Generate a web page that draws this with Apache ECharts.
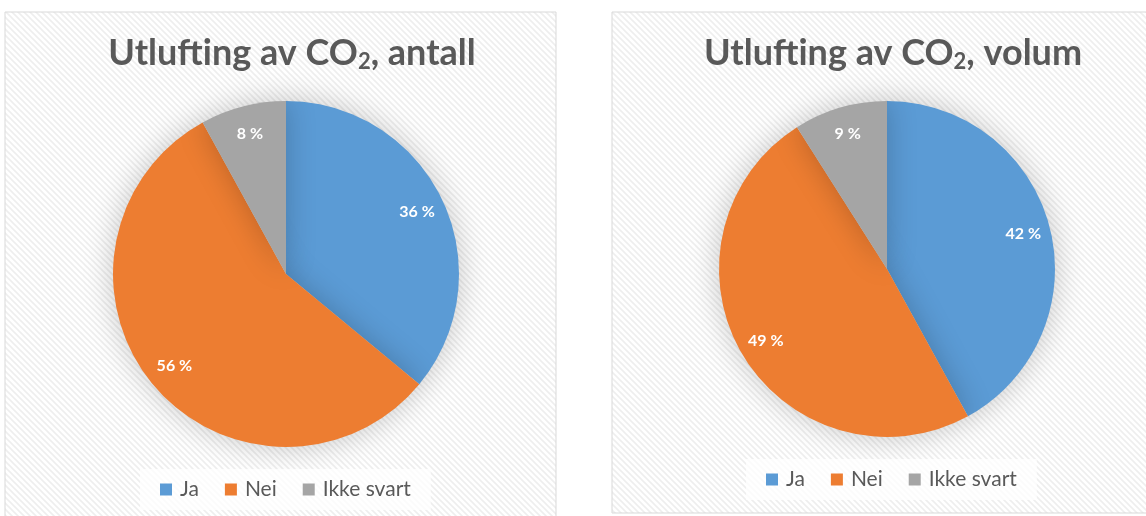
<!DOCTYPE html>
<html>
<head>
<meta charset="utf-8">
<script src="https://cdn.jsdelivr.net/npm/echarts@6/dist/echarts.min.js"></script>
<style>
  html, body { margin: 0; padding: 0; background: #fff; }
  #main { width: 1146px; height: 516px; }
</style>
</head>
<body>
<div id="main"></div>
<script>
// data
const categories = ['Ja', 'Nei', 'Ikke svart'];
const antallValues = [36, 56, 8];
const volumValues = [42, 49, 9];
const colors = ['#5b9bd5', '#ed7d31', '#a5a5a5'];

const FONT = 'Lato, "Open Sans", sans-serif';

// light diagonal hatch used as panel background
const hatch = document.createElement('canvas');
hatch.width = 6;
hatch.height = 6;
(function () {
  const c = hatch.getContext('2d');
  c.fillStyle = '#ffffff';
  c.fillRect(0, 0, 6, 6);
  c.strokeStyle = '#eeeeee';
  c.lineWidth = 1.6;
  c.beginPath();
  c.moveTo(-1, -1); c.lineTo(7, 7);
  c.moveTo(-7, -1); c.lineTo(1, 7);
  c.moveTo(5, -1); c.lineTo(13, 7);
  c.stroke();
})();

const toData = vals => categories.map((name, i) => ({ name, value: vals[i] }));

function pieSeries(vals, center, r) {
  return [{
    type: 'pie',
    center: center,
    radius: r,
    startAngle: 90,
    clockwise: true,
    label: { show: false },
    labelLine: { show: false },
    emphasis: { disabled: true },
    itemStyle: { borderWidth: 0, shadowBlur: 30, shadowColor: 'rgba(0,0,0,0.22)' },
    data: toData(vals)
  }, {
    // transparent ring, only here to push labels out towards the rim
    type: 'pie',
    center: center,
    radius: [r * 0.64, r],
    startAngle: 90,
    silent: true,
    legendHoverLink: false,
    itemStyle: { color: 'rgba(0,0,0,0)' },
    emphasis: { disabled: true },
    labelLine: { show: false },
    label: {
      show: true,
      position: 'inside',
      formatter: '{c} %',
      color: '#ffffff',
      fontFamily: FONT,
      fontWeight: 'bold',
      fontSize: 16
    },
    data: toData(vals)
  }];
}

const titleRich = {
  sub: { fontSize: 22, fontWeight: 'bold', color: '#595959', fontFamily: FONT, padding: [18, 0, 0, 0] }
};

function legend(left, top) {
  return {
    data: categories,
    left: left,
    top: top,
    itemWidth: 12,
    itemHeight: 12,
    itemGap: 26,
    icon: 'rect',
    backgroundColor: 'rgba(255,255,255,0.75)',
    padding: [10, 20],
    textStyle: { fontFamily: FONT, fontSize: 21, color: '#595959', padding: [0, 0, 0, 3] }
  };
}

const chart = echarts.init(document.getElementById('main'));
chart.setOption({
  color: colors,
  animation: false,
  graphic: [
    { type: 'rect', z: -10, shape: { x: 5, y: 12, width: 551, height: 510 },
      style: { fill: { image: hatch, repeat: 'repeat' }, stroke: '#d9d9d9', lineWidth: 1 } },
    { type: 'rect', z: -10, shape: { x: 612, y: 12, width: 540, height: 501 },
      style: { fill: { image: hatch, repeat: 'repeat' }, stroke: '#d9d9d9', lineWidth: 1 } }
  ],
  title: [{
    text: 'Utlufting av CO{sub|2}, antall',
    left: 287,
    top: 28,
    textAlign: 'center',
    textStyle: { fontFamily: FONT, fontSize: 36, fontWeight: 'bold', color: '#595959', rich: titleRich }
  }, {
    text: 'Utlufting av CO{sub|2}, volum',
    left: 888,
    top: 28,
    textAlign: 'center',
    textStyle: { fontFamily: FONT, fontSize: 36, fontWeight: 'bold', color: '#595959', rich: titleRich }
  }],
  legend: [legend(140, 469), legend(746, 459)],
  series: [].concat(
    pieSeries(antallValues, [286, 274], 173),
    pieSeries(volumValues, [887, 269], 168)
  )
});
</script>
</body>
</html>
